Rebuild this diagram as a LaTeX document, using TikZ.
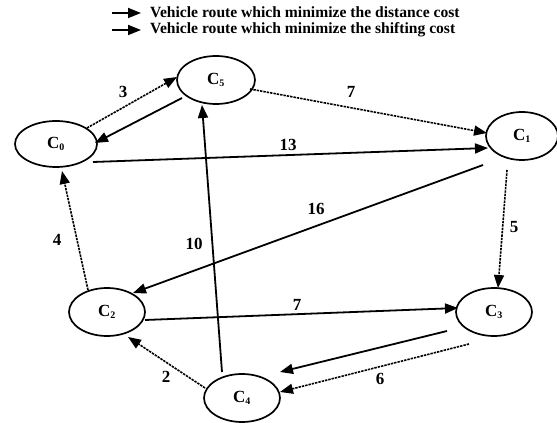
\documentclass[tikz,border=0pt]{standalone}
\usepackage{fontspec}
\setmainfont{Liberation Serif}
\usetikzlibrary{arrows.meta,calc,shapes.geometric}

\tikzset{
  city/.style={draw, line width=1.7pt, ellipse, minimum width=78pt, minimum height=48pt,
               inner sep=0pt, font=\fontsize{17}{17}\selectfont\bfseries},
  route/.style={line width=1.8pt, -{Triangle[length=13pt,width=10pt]}},
  distroute/.style={route, line width=1.6pt, dash pattern=on 2.4pt off 1pt},
  cost/.style={font=\fontsize{17}{17}\selectfont\bfseries, inner sep=0pt},
  legendtext/.style={font=\fontsize{15.6}{16}\selectfont\bfseries, anchor=west, inner sep=0pt}
}

\newcommand{\city}[1]{C\textsubscript{\fontsize{10}{10}\selectfont #1}}

\begin{document}
\begin{tikzpicture}[x=1pt, y=1pt]
  \useasboundingbox (0,0) rectangle (557,423);

  % legend
  \coordinate (la1) at (112,410);
  \coordinate (lb1) at (141,410);
  \coordinate (la2) at (112,393);
  \coordinate (lb2) at (141,393);
  \draw[route] (la1) -- (lb1);
  \draw[route] (la2) -- (lb2);
  \node[legendtext] (lt1) at (150,411) {Vehicle route which minimize the distance cost};
  \node[legendtext] (lt2) at (150,393) {Vehicle route which minimize the shifting cost};

  % cities
  \node[city, minimum width=82pt, minimum height=46pt] (c0) at (56,279) {\city{0}};
  \node[city] (c5) at (216,343) {\city{5}};
  \node[city, minimum width=72pt] (c1) at (522,287) {\city{1}};
  \node[city, minimum width=76pt] (c2) at (107,111) {\city{2}};
  \node[city, minimum width=76pt] (c3) at (494,111) {\city{3}};
  \node[city, minimum width=76pt] (c4) at (242,25) {\city{4}};

  % routes
  \draw[distroute] ($(c0)+(31,16)$) -- ($(c5)+(-39,3)$);
  \draw[route]     ($(c5)+(-34,-18)$) -- ($(c0)+(39,1)$);
  \draw[distroute] ($(c5)+(34,-9)$) -- ($(c1)+(-35,3)$);
  \draw[route]     ($(c0)+(37,-18)$) -- ($(c1)+(-34,-12)$);
  \draw[route]     ($(c1)+(-39,-29)$) -- ($(c2)+(26,19)$);
  \draw[distroute] ($(c1)+(-15,-34)$) -- ($(c3)+(4,24)$);
  \draw[distroute] ($(c2)+(-19,22)$) -- ($(c0)+(6,-27)$);
  \draw[route]     ($(c4)+(-20,26)$) -- ($(c5)+(-14,-25)$);
  \draw[route]     ($(c2)+(38,-8)$) -- ($(c3)+(-36,4)$);
  \draw[route]     ($(c3)+(-47,-19)$) -- ($(c4)+(38,26)$);
  \draw[distroute] ($(c3)+(-25,-32)$) -- ($(c4)+(38,6)$);
  \draw[distroute] ($(c4)+(-37,10)$) -- ($(c2)+(21,-25)$);

  % costs
  \node[cost] (k3)  at (123,331) {3};
  \node[cost] (k7a) at (351,331) {7};
  \node[cost] (k13) at (288,278) {13};
  \node[cost] (k16) at (316,214) {16};
  \node[cost] (k5)  at (514,196) {5};
  \node[cost] (k4)  at (57,183) {4};
  \node[cost] (k10) at (194,179) {10};
  \node[cost] (k7b) at (297,118) {7};
  \node[cost] (k6)  at (380,44) {6};
  \node[cost] (k2)  at (166,46) {2};
\end{tikzpicture}
\end{document}
